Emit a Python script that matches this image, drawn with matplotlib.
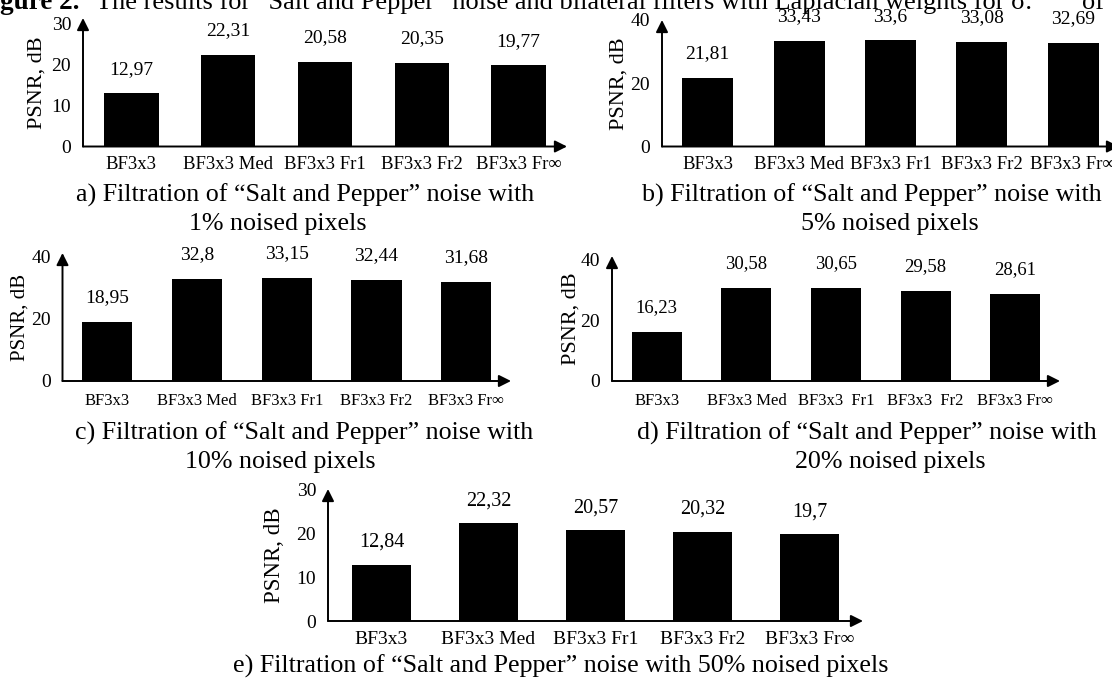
import matplotlib
matplotlib.use('Agg')
import matplotlib.pyplot as plt

W, H = 1112, 682
SERIF = ['Liberation Serif', 'DejaVu Serif']
plt.rcParams['font.family'] = SERIF

# ---- data ----
categories = ['BF3x3', 'BF3x3 Med', 'BF3x3 Fr1', 'BF3x3 Fr2', 'BF3x3 Fr∞']
categories_d = ['BF3x3', 'BF3x3 Med', 'BF3x3  Fr1', 'BF3x3  Fr2', 'BF3x3 Fr∞']
psnr_a = [12.97, 22.31, 20.58, 20.35, 19.77]
psnr_b = [21.81, 33.43, 33.6, 33.08, 32.69]
psnr_c = [18.95, 32.8, 33.15, 32.44, 31.68]
psnr_d = [16.23, 30.58, 30.65, 29.58, 28.61]
psnr_e = [12.84, 22.32, 20.57, 20.32, 19.7]
yticks_a = [0, 10, 20, 30]
yticks_b = [0, 20, 40]
yticks_c = [0, 20, 40]
yticks_d = [0, 20, 40]
yticks_e = [0, 10, 20, 30]
ylabel = 'PSNR, dB'
caption_a = ['a) Filtration of “Salt and Pepper” noise with', '1% noised pixels']
caption_b = ['b) Filtration of “Salt and Pepper” noise with', '5% noised pixels']
caption_c = ['c) Filtration of “Salt and Pepper” noise with', '10% noised pixels']
caption_d = ['d) Filtration of “Salt and Pepper” noise with', '20% noised pixels']
caption_e = ['e) Filtration of “Salt and Pepper” noise with 50% noised pixels']
header_bold = 'Figure 2.'
header_text = 'The results for “Salt and Pepper” noise and bilateral filters with Laplacian weights for σ.'
header_tail = 'of'

fig = plt.figure(figsize=(W / 100, H / 100), dpi=100)
fig.patch.set_facecolor('white')


def panel(box, values, cats, yticks, ytop, tick_fs, val_fs, xpad, ylab_x, ylab_fs, val_off):
    left, right, bottom, top = box
    ax = fig.add_axes([left / W, 1 - bottom / H, (right - left) / W, (bottom - top) / H])
    xs = [i + 0.5 for i in range(len(values))]
    ax.bar(xs, values, width=0.56, color='black', edgecolor='none')
    ax.set_xlim(0, len(values))
    ax.set_ylim(0, ytop)
    ax.set_xticks(xs)
    ax.set_xticklabels(cats, fontsize=tick_fs)
    ax.set_yticks(yticks)
    ax.set_yticklabels([str(t) for t in yticks], fontsize=14)
    ax.tick_params(axis='x', length=0, pad=xpad)
    ax.tick_params(axis='y', length=0, pad=8.5)
    for s in ax.spines.values():
        s.set_visible(False)
    ax.patch.set_alpha(0)
    arrow = dict(arrowstyle='-|>', color='black', lw=1.4, mutation_scale=18,
                 shrinkA=0, shrinkB=0)
    ax.annotate('', xy=(0, 1), xytext=(0, 0), xycoords='axes fraction',
                textcoords='axes fraction', arrowprops=arrow, annotation_clip=False)
    ax.annotate('', xy=(1, 0), xytext=(0, 0), xycoords='axes fraction',
                textcoords='axes fraction', arrowprops=arrow, annotation_clip=False)
    for x, v in zip(xs, values):
        ax.annotate(f'{v:g}'.replace('.', ','), xy=(x, v), xytext=(0, val_off),
                    textcoords='offset points', ha='center', va='center',
                    fontsize=val_fs)
    ax.set_ylabel(ylabel, fontsize=ylab_fs)
    ax.yaxis.label.set_va('center')
    ax.yaxis.set_label_coords((ylab_x - left) / (right - left), 0.5)
    return ax


panel((83, 567, 146.5, 18), psnr_a, categories, yticks_a, 31.3, 13.5, 14, 7, 37, 16, 17.3)
panel((662, 1119, 146.5, 20), psnr_b, categories, yticks_b, 40, 13.5, 14, 7, 619, 16, 17.3)
panel((62.5, 511, 381, 253), psnr_c, categories, yticks_c, 41, 12, 14, 8.5, 20, 15, 17.3)
panel((612, 1060, 381, 256), psnr_d, categories_d, yticks_d, 41, 12, 13.5, 8.5, 571, 16, 17.3)
panel((328, 863, 621, 489), psnr_e, categories, yticks_e, 30, 14, 14.5, 7, 275, 16.5, 16)

CAP_FS = 18.7


def cap(x, y, s):
    fig.text(x / W, 1 - y / H, s, ha='center', va='center', fontsize=CAP_FS)


cap(305, 195, caption_a[0]); cap(278, 224, caption_a[1])
cap(872, 195, caption_b[0]); cap(890, 224, caption_b[1])
cap(304, 433, caption_c[0]); cap(280, 462, caption_c[1])
cap(867, 433, caption_d[0]); cap(890, 462, caption_d[1])
cap(561, 666, caption_e[0])

fig.text(80 / W, 1 - 9 / H, header_bold, ha='right', va='baseline', fontsize=19.5, weight='bold')
fig.text(96 / W, 1 - 9 / H, header_text, ha='left', va='baseline', fontsize=19)
fig.text(1082 / W, 1 - 9 / H, header_tail, ha='left', va='baseline', fontsize=19)

fig.savefig('out.png', dpi=100, facecolor='white')
